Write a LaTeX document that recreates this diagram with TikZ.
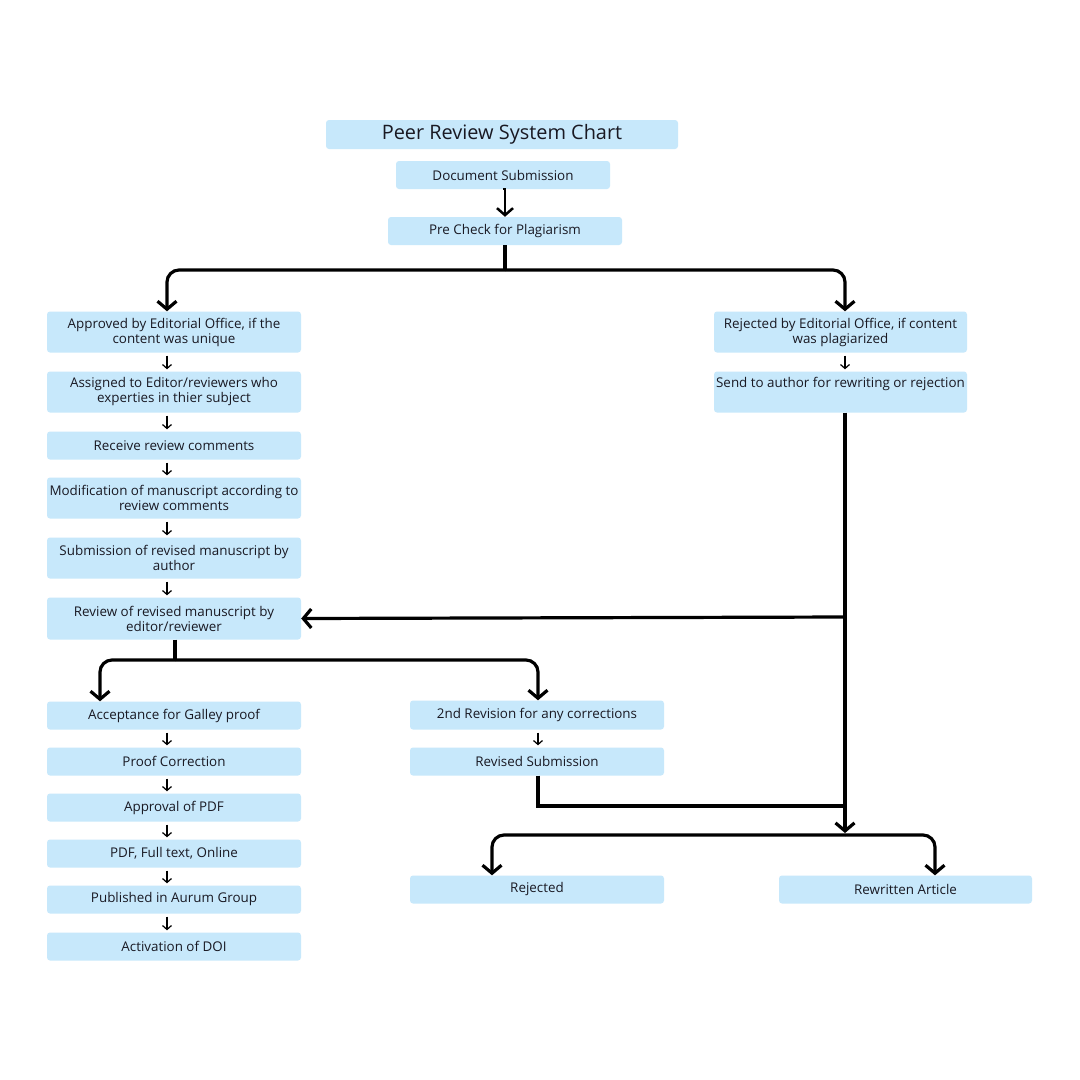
\documentclass[tikz,border=0pt]{standalone}
\usepackage{fontspec}
\setmainfont{Open Sans}
\usetikzlibrary{arrows.meta}
\definecolor{boxblue}{RGB}{199,232,251}
\definecolor{txt}{RGB}{25,25,35}
\tikzset{
  box/.style={fill=boxblue, rounded corners=3pt, inner sep=0pt, align=center,
    text=txt, font=\fontsize{13.4}{15}\selectfont, minimum width=254pt},
  conn/.style={line width=3.2pt, draw=black},
  arrowc/.style={conn, -{Straight Barb[length=8pt,width=19pt,line width=3.2pt]}},
  thinarr/.style={line width=1.2pt, -{Straight Barb[length=4pt,width=9pt,line width=1.2pt]}, shorten <=3pt, shorten >=2pt}
}
\begin{document}
\begin{tikzpicture}[x=1pt,y=-1pt]
\useasboundingbox[fill=white] (0,0) rectangle (1080,1080);
% title & top
\node[box, minimum width=352pt, minimum height=29pt, font=\fontsize{19.9}{22}\selectfont] (title) at (502,134.5) {Peer Review System Chart};
\node[box, minimum width=214pt, minimum height=28pt] (doc) at (503,175) {Document Submission};
\node[box, minimum width=234pt, minimum height=28pt] (pre) at (505,231) {Pre Check for Plagiarism};
% left column
\node[box, minimum height=41pt] (appr) at (174,332) {Approved by Editorial Office, if the\\content was unique};
\node[box, minimum height=41pt] (assg) at (174,392) {Assigned to Editor/reviewers who\\experties in thier subject};
\node[box, minimum height=28pt] (recv) at (174,445.5) {Receive review comments};
\node[box, minimum height=41pt] (modi) at (174,498) {Modification of manuscript according to\\review comments};
\node[box, minimum height=41pt] (subm) at (174,558) {Submission of revised manuscript by\\author};
\node[box, minimum height=42pt] (revw) at (174,618.5) {Review of revised manuscript by\\editor/reviewer};
\node[box, minimum height=28pt] (acc) at (174,715.5) {Acceptance for Galley proof};
\node[box, minimum height=28pt] (proof) at (174,761.5) {Proof Correction};
\node[box, minimum height=28pt] (appdf) at (174,807.5) {Approval of PDF};
\node[box, minimum height=28pt] (pdf) at (174,853.5) {PDF, Full text, Online};
\node[box, minimum height=28pt] (publ) at (174,899.5) {Published in Aurum Group};
\node[box, minimum height=28pt] (doi) at (174,946.5) {Activation of DOI};
% right column
\node[box, minimum width=253pt, minimum height=41pt] (rejeo) at (840.5,332) {Rejected by Editorial Office, if content\\was plagiarized};
\node[box, minimum width=253pt, minimum height=41pt] (send) at (840.5,392) {Send to author for rewriting or rejection\\\strut};
% middle
\node[box, minimum height=29pt] (rev2) at (537,715) {2nd Revision for any corrections};
\node[box, minimum height=28pt] (revsub) at (537,761.5) {Revised Submission};
\node[box, minimum height=28pt] (rejd) at (537,889.5) {Rejected};
\node[box, minimum width=253pt, minimum height=28pt] (rewr) at (905.5,889.5) {Rewritten Article};
% coordinates
\coordinate (j1) at (505,270);
\coordinate (j2) at (845,617);
\coordinate (j3) at (845,833);
\coordinate (j4) at (845,835);
\coordinate (j5) at (175,660);
\coordinate (j6) at (845,806);
% connectors
\draw[conn, line width=2.5pt, -{Straight Barb[length=7pt,width=16pt,line width=2.5pt]}] (doc.south) -- (pre.south |- doc.south) -- (pre.north);
\draw[conn] (pre.south) -- (j1);
\draw[arrowc, rounded corners=12pt] (j1) -| ([xshift=-7pt]appr.north);
\draw[arrowc, rounded corners=12pt] (j1) -| ([xshift=4.5pt]rejeo.north);
\draw[thinarr] ([xshift=-7pt]appr.south) -- ([xshift=-7pt]assg.north);
\draw[thinarr] ([xshift=-7pt]assg.south) -- ([xshift=-7pt]recv.north);
\draw[thinarr] ([xshift=-7pt]recv.south) -- ([xshift=-7pt]modi.north);
\draw[thinarr] ([xshift=-7pt]modi.south) -- ([xshift=-7pt]subm.north);
\draw[thinarr] ([xshift=-7pt]subm.south) -- ([xshift=-7pt]revw.north);
\draw[thinarr] ([xshift=-7pt]acc.south) -- ([xshift=-7pt]proof.north);
\draw[thinarr] ([xshift=-7pt]proof.south) -- ([xshift=-7pt]appdf.north);
\draw[thinarr] ([xshift=-7pt]appdf.south) -- ([xshift=-7pt]pdf.north);
\draw[thinarr] ([xshift=-7pt]pdf.south) -- ([xshift=-7pt]publ.north);
\draw[thinarr] ([xshift=-7pt]publ.south) -- ([xshift=-7pt]doi.north);
\draw[thinarr] ([xshift=4.5pt]rejeo.south) -- ([xshift=4.5pt]send.north);
\draw[thinarr] ([xshift=1pt]rev2.south) -- ([xshift=1pt]revsub.north);
% right trunk
\draw[arrowc] ([xshift=4.5pt]send.south) -- (j3);
\draw[arrowc] (j2) -- (revw.east);
% review split
\draw[conn] ([xshift=1pt]revw.south) -- (j5);
\draw[arrowc, rounded corners=12pt] (j5) -| ([xshift=-74pt]acc.north);
\draw[arrowc, rounded corners=12pt] (j5) -| ([xshift=1pt]rev2.north);
% revised submission to trunk
\draw[conn] ([xshift=1pt]revsub.south) |- (j6);
% bottom split
\draw[arrowc, rounded corners=12pt] (j4) -| ([xshift=-45pt]rejd.north);
\draw[arrowc, rounded corners=12pt] (j4) -| ([xshift=29.5pt]rewr.north);
\end{tikzpicture}
\end{document}
